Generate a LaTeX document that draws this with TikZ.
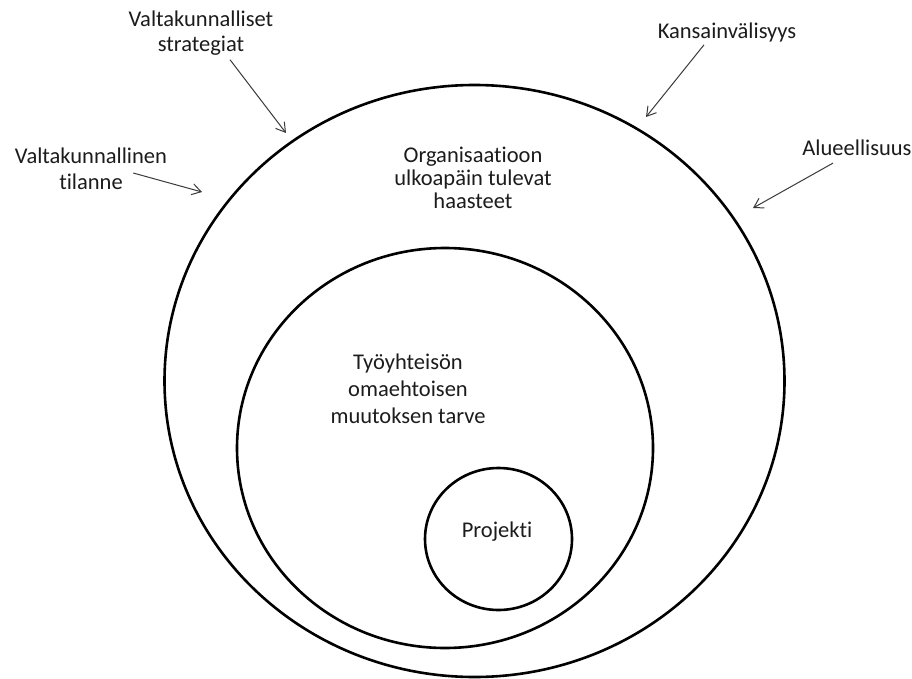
\documentclass[tikz,border=0pt]{standalone}
\usepackage{fontspec}
\setmainfont{Carlito}[RawFeature={-liga}]
\usetikzlibrary{arrows.meta,calc}
\definecolor{ink}{HTML}{1C1C1C}
\definecolor{arrowink}{HTML}{3A3A3A}
\tikzset{
  ring/.style={draw=black, line width=2.6pt},
  label/.style={font=\fontsize{22.5}{25.5}\selectfont, text=ink, align=center, inner sep=1pt},
  pointer/.style={draw=arrowink, line width=1pt, -{Straight Barb[length=9pt,width=11pt]}}
}
\begin{document}
\begin{tikzpicture}[x=1pt,y=-1pt]
  \useasboundingbox (0,0) rectangle (912,679);
  \fill[white] (0,0) rectangle (912,679);

  % nested circles
  \draw[ring] (474.5,381) ellipse [x radius=310, y radius=296];
  \draw[ring] (445,448) ellipse [x radius=208, y radius=200];
  \draw[ring] (498.5,539) ellipse [x radius=73.5, y radius=71];

  % labels inside the circles
  \node[label, font=\fontsize{22.5}{23}\selectfont] (org) at (473,178) {Organisaatioon\\ulkoapäin tulevat\\haasteet};
  \node[label, font=\fontsize{22.5}{27}\selectfont] (tyo) at (408,389) {Työyhteisön\\omaehtoisen\\muutoksen tarve};
  \node[label] (proj) at (497,532) {Projekti};

  % outside influences
  \node[label] (strat) at (201,33) {Valtakunnalliset\\strategiat};
  \node[label] (tila) at (91,169) {Valtakunnallinen\\tilanne};
  \node[label] (kans) at (727,33) {Kansainvälisyys};
  \node[label] (alue) at (857,148) {Alueellisuus};

  % arrow targets on the outer circle
  \coordinate (tStrat) at (286,133);
  \coordinate (tTila) at (202,192);
  \coordinate (tKans) at (646,117);
  \coordinate (tAlue) at (753,208);

  \draw[pointer] ($(strat.south)+(29,3)$) -- (tStrat);
  \draw[pointer] ($(tila.east)+(-35,4)$) -- (tTila);
  \draw[pointer] ($(kans.south)+(-23,1)$) -- (tKans);
  \draw[pointer] ($(alue.south)+(-24,6)$) -- (tAlue);
\end{tikzpicture}
\end{document}
